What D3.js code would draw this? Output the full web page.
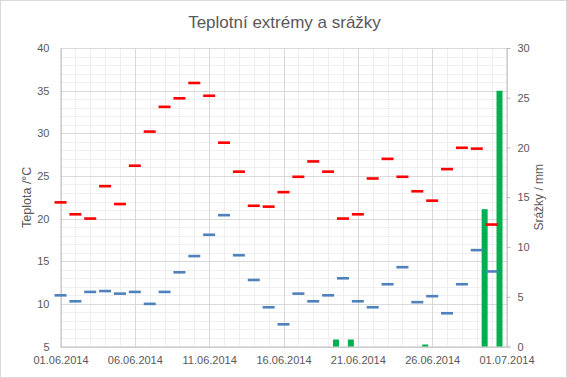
<!DOCTYPE html>
<html>
<head>
<meta charset="utf-8">
<title>Teplotní extrémy a srážky</title>
<script src="https://d3js.org/d3.v7.min.js"></script>
<style>
  body { margin: 0; background: #fff; }
  text { font-family: "Liberation Sans", Arial, sans-serif; fill: #595959; }
  .grid-minor { stroke: #efefef; stroke-width: 1; }
  .grid-major { stroke: #d9d9d9; stroke-width: 1; }
  .axis-line { stroke: #bfbfbf; stroke-width: 1; }
</style>
</head>
<body>
<svg width="567" height="378"></svg>
<script>
  // categories (one per day)
  const days = ["01.06.2014","02.06.2014","03.06.2014","04.06.2014","05.06.2014","06.06.2014",
    "07.06.2014","08.06.2014","09.06.2014","10.06.2014","11.06.2014","12.06.2014","13.06.2014",
    "14.06.2014","15.06.2014","16.06.2014","17.06.2014","18.06.2014","19.06.2014","20.06.2014",
    "21.06.2014","22.06.2014","23.06.2014","24.06.2014","25.06.2014","26.06.2014","27.06.2014",
    "28.06.2014","29.06.2014","30.06.2014","01.07.2014"];

  // daily maximum temperature, °C
  const tMax = [21.9, 20.5, 20.0, 23.8, 21.7, 26.2, 30.2, 33.1, 34.1, 35.9, 34.4, 28.9, 25.5,
    21.5, 21.4, 23.1, 24.9, 26.7, 25.5, 20.0, 20.5, 24.7, 27.0, 24.9, 23.2, 22.1, 25.8,
    28.3, 28.2, 19.3, null];

  // daily minimum temperature, °C
  const tMin = [11.0, 10.3, 11.4, 11.5, 11.2, 11.4, 10.0, 11.4, 13.7, 15.6, 18.1, 20.4, 15.7,
    12.8, 9.6, 7.6, 11.2, 10.3, 11.0, 13.0, 10.3, 9.6, 12.3, 14.3, 10.2, 10.9, 8.9,
    12.3, 16.3, 13.8, null];

  // precipitation, mm
  const rain = [0, 0, 0, 0, 0, 0, 0, 0, 0, 0, 0, 0, 0, 0, 0, 0, 0, 0, 0, 0.7, 0.7, 0, 0, 0, 0,
    0.2, 0, 0, 0, 13.8, 25.7];

  // tick labels
  const xTickLabels = ["01.06.2014","06.06.2014","11.06.2014","16.06.2014","21.06.2014","26.06.2014","01.07.2014"];
  const leftTicks = [5, 10, 15, 20, 25, 30, 35, 40];
  const rightTicks = [0, 5, 10, 15, 20, 25, 30];

  const W = 567, H = 378;
  const margin = {top: 48, right: 60.5, bottom: 31.5, left: 60.5};
  const x0 = margin.left, x1 = W - margin.right, y0 = H - margin.bottom, y1 = margin.top;

  const parse = d3.timeParse("%d.%m.%Y");
  const fmt = d3.timeFormat("%d.%m.%Y");

  const svg = d3.select("svg");

  // chart border
  svg.append("rect")
    .attr("x", 0.5).attr("y", 0.5)
    .attr("width", W - 1).attr("height", H - 1)
    .attr("fill", "#fff").attr("stroke", "#d9d9d9");

  const x = d3.scaleTime()
    .domain([parse(days[0]), parse(days[days.length - 1])])
    .range([x0, x1]);
  const yT = d3.scaleLinear().domain([5, 40]).range([y0, y1]);
  const yR = d3.scaleLinear().domain([0, 30]).range([y0, y1]);
  const step = x(parse(days[1])) - x(parse(days[0]));

  // gridlines
  const g = svg.append("g");
  g.selectAll(".vmin").data(days).join("line")
    .attr("class", "grid-minor")
    .attr("x1", d => Math.round(x(parse(d))) + 0.5).attr("x2", d => Math.round(x(parse(d))) + 0.5)
    .attr("y1", y1).attr("y2", y0);
  g.selectAll(".hmin").data(d3.range(5, 41, 1)).join("line")
    .attr("class", "grid-minor")
    .attr("x1", x0).attr("x2", x1)
    .attr("y1", d => Math.round(yT(d)) + 0.5).attr("y2", d => Math.round(yT(d)) + 0.5);
  g.selectAll(".vmaj").data(xTickLabels).join("line")
    .attr("class", "grid-major")
    .attr("x1", d => Math.round(x(parse(d))) + 0.5).attr("x2", d => Math.round(x(parse(d))) + 0.5)
    .attr("y1", y1).attr("y2", y0);
  g.selectAll(".hmaj").data(leftTicks).join("line")
    .attr("class", "grid-major")
    .attr("x1", x0).attr("x2", x1)
    .attr("y1", d => Math.round(yT(d)) + 0.5).attr("y2", d => Math.round(yT(d)) + 0.5);

  // axes
  const axL = svg.append("g").attr("transform", `translate(${x0},0)`)
    .call(d3.axisLeft(yT).tickValues(leftTicks).tickSize(0).tickPadding(11));
  const axR = svg.append("g").attr("transform", `translate(${x1},0)`)
    .call(d3.axisRight(yR).tickValues(rightTicks).tickSize(4).tickPadding(7));
  const axB = svg.append("g").attr("transform", `translate(0,${y0})`)
    .call(d3.axisBottom(x).tickValues(xTickLabels.map(parse)).tickFormat(fmt).tickSize(0).tickPadding(10));
  [axL, axR, axB].forEach(a => {
    a.select(".domain").attr("class", "axis-line");
    a.selectAll(".tick line").attr("stroke", "#bfbfbf");
    a.selectAll("text").attr("font-size", 11).attr("fill", "#595959")
      .style("font-family", '"Liberation Sans", Arial, sans-serif');
  });

  // precipitation bars
  const barW = 6;
  svg.append("g").selectAll("rect").data(days.map((d, i) => ({d: parse(d), v: rain[i]})).filter(r => r.v > 0))
    .join("rect")
    .attr("x", r => x(r.d) - 0.47 * step - barW / 2)
    .attr("width", barW)
    .attr("y", r => yR(r.v))
    .attr("height", r => y0 - yR(r.v))
    .attr("fill", "#00b050");

  // temperature markers (dash)
  const mW = 12, mH = 2.6;
  function dashes(values, color) {
    svg.append("g").selectAll("rect")
      .data(days.map((d, i) => ({d: parse(d), v: values[i]})).filter(r => r.v != null))
      .join("rect")
      .attr("x", r => x(r.d) - mW / 2)
      .attr("y", r => yT(r.v) - mH / 2)
      .attr("width", mW).attr("height", mH)
      .attr("fill", color);
  }
  dashes(tMax, "#ff0000");
  dashes(tMin, "#4f81bd");

  // titles
  svg.append("text")
    .attr("x", 284.5).attr("y", 27.5)
    .attr("text-anchor", "middle")
    .attr("font-size", 17)
    .text("Teplotní extrémy a srážky");

  svg.append("text")
    .attr("transform", `translate(31,${(y0 + y1) / 2}) rotate(-90)`)
    .attr("text-anchor", "middle")
    .attr("font-size", 12.5)
    .text("Teplota /°C");

  svg.append("text")
    .attr("transform", `translate(543,${(y0 + y1) / 2}) rotate(-90)`)
    .attr("text-anchor", "middle")
    .attr("font-size", 12)
    .text("Srážky / mm");
</script>
</body>
</html>
